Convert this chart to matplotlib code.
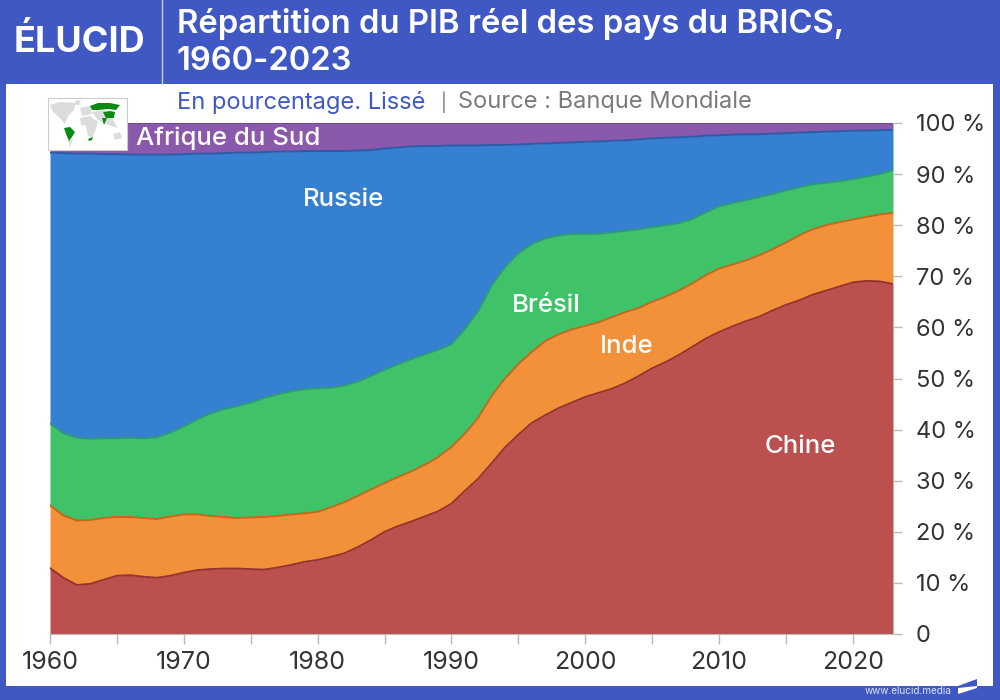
import numpy as np
import matplotlib
matplotlib.use("Agg")
import matplotlib.pyplot as plt
from matplotlib.patches import Rectangle, Polygon

plt.rcParams['font.family'] = ['Inter', 'DejaVu Sans']

# top edge of each band (cumulative %), one value per year
years = np.arange(1960, 2024)
chine = [12.9, 11.0, 9.6, 9.8, 10.6, 11.4, 11.5, 11.2, 11.0, 11.4,
         12.0, 12.5, 12.7, 12.8, 12.8, 12.7, 12.6, 13.0, 13.5, 14.1,
         14.5, 15.1, 15.8, 17.0, 18.4, 20.0, 21.1, 22.0, 23.0, 24.0,
         25.5, 28.0, 30.4, 33.4, 36.5, 39.0, 41.3, 42.8, 44.2, 45.3,
         46.4, 47.2, 48.0, 49.1, 50.5, 52.0, 53.2, 54.6, 56.2, 57.8,
         59.1, 60.2, 61.2, 62.1, 63.3, 64.4, 65.3, 66.4, 67.2, 68.0,
         68.8, 69.1, 69.0, 68.5]
inde = [25.2, 23.2, 22.2, 22.3, 22.7, 22.9, 22.9, 22.7, 22.5, 23.0,
        23.4, 23.4, 23.1, 22.9, 22.7, 22.8, 22.9, 23.1, 23.4, 23.6,
        23.9, 24.8, 25.8, 27.0, 28.3, 29.5, 30.7, 31.8, 33.1, 34.6,
        36.6, 39.2, 42.3, 46.6, 50.0, 52.8, 55.2, 57.3, 58.6, 59.6,
        60.3, 61.0, 62.0, 63.0, 63.8, 65.0, 66.0, 67.2, 68.6, 70.2,
        71.5, 72.3, 73.1, 74.1, 75.3, 76.6, 78.0, 79.2, 80.0, 80.6,
        81.1, 81.6, 82.1, 82.4]
bresil = [41.2, 39.3, 38.4, 38.2, 38.3, 38.3, 38.4, 38.3, 38.5, 39.4,
          40.6, 42.0, 43.2, 44.0, 44.6, 45.3, 46.2, 46.9, 47.5, 47.9,
          48.1, 48.2, 48.6, 49.4, 50.5, 51.7, 52.8, 53.8, 54.7, 55.6,
          56.7, 59.7, 63.2, 68.2, 71.8, 74.5, 76.3, 77.4, 78.0, 78.3,
          78.3, 78.3, 78.6, 78.9, 79.2, 79.6, 80.0, 80.4, 81.2, 82.5,
          83.7, 84.3, 84.9, 85.5, 86.1, 86.8, 87.4, 88.0, 88.3, 88.6,
          89.0, 89.5, 90.0, 90.8]
russie = [94.2, 94.1, 94.0, 94.0, 93.9, 93.9, 93.8, 93.8, 93.8, 93.8,
          93.9, 94.0, 94.0, 94.1, 94.2, 94.2, 94.3, 94.4, 94.4, 94.5,
          94.5, 94.5, 94.5, 94.6, 94.7, 95.0, 95.2, 95.4, 95.5, 95.5,
          95.6, 95.6, 95.6, 95.7, 95.7, 95.8, 95.9, 96.0, 96.1, 96.2,
          96.3, 96.4, 96.5, 96.6, 96.8, 97.0, 97.1, 97.2, 97.3, 97.5,
          97.6, 97.7, 97.8, 97.8, 97.9, 98.0, 98.1, 98.2, 98.3, 98.4,
          98.5, 98.5, 98.6, 98.6]
afrique = [100.0] * len(years)

bands = [chine, inde, bresil, russie, afrique]
colors = ['#BC504E', '#F29139', '#3FC268', '#3680D2', '#8A59AB']
edges = ['#96332F', '#C9661A', '#2E9A78', '#2B5BA8', '#6F4596']
band_labels = [('Chine', 2016.1, 36.7), ('Inde', 2003.1, 56.3), ('Brésil', 1997.1, 64.2),
               ('Russie', 1981.9, 85.0), ('Afrique du Sud', 1973.3, 97.0)]

yticks = np.arange(0, 101, 10)
ylabels = ['0'] + ['%d %%' % v for v in yticks[1:]]
xticks = np.arange(1960, 2021, 5)
xlabels = ['%d' % v if v % 10 == 0 else '' for v in xticks]

W, H = 1000, 700
blue = '#3F58C4'
fig = plt.figure(figsize=(10, 7), dpi=100, facecolor=blue)

bg = fig.add_axes([0, 0, 1, 1])
bg.set_xlim(0, W)
bg.set_ylim(H, 0)
bg.axis('off')
bg.add_patch(Rectangle((6, 84), 987, 602, fc='white', ec='none'))
bg.plot([162, 162], [0, 84], color='#C9D0EE', lw=1)

bg.text(14, 41, 'ÉLUCID', color='white', fontsize=26, fontweight='bold', va='center')
bg.text(177, 24, 'Répartition du PIB réel des pays du BRICS,', color='white', fontsize=23.6,
        fontweight='semibold', va='center')
bg.text(177, 62, '1960-2023', color='white', fontsize=23.6, fontweight='semibold', va='center')
bg.text(177, 102, 'En pourcentage. Lissé', color=blue, fontsize=17, va='center')
bg.text(441, 102, '|', color='#777777', fontsize=13, va='center')
bg.text(458, 102, 'Source : Banque Mondiale', color='#7A7A7A', fontsize=17, va='center')
bg.text(865, 691, 'www.elucid.media', color='#DDE2F6', fontsize=7.2, va='center')
bg.add_patch(Polygon([(958, 686), (977, 679), (977, 686)], fc=blue, ec='none'))
bg.add_patch(Polygon([(958, 688), (977, 686), (977, 688), (958, 694)], fc='white', ec='none'))

ax = fig.add_axes([50 / W, 1 - 634 / H, 843 / W, 511 / H])
low = np.zeros(len(years))
for top, c, e in zip(bands, colors, edges):
    top = np.array(top)
    ax.fill_between(years, low, top, color=c, lw=0)
    ax.plot(years, top, color=e, lw=1.4)
    low = top
for name, x, y in band_labels:
    ax.text(x, y, name, color='white', fontsize=18.5, fontweight='medium', ha='center', va='center')

ax.set_xlim(1960, 2023)
ax.set_ylim(0, 100)
ax.set_xticks(xticks, xlabels)
ax.yaxis.tick_right()
ax.set_yticks(yticks, ylabels)
ax.tick_params(axis='x', length=7, width=1, color='#BBBBBB', labelsize=18, labelcolor='#333333', pad=5)
ax.tick_params(axis='y', length=6.5, width=1, color='#BBBBBB', labelsize=17, labelcolor='#333333', pad=10)
for s in ['top', 'left', 'right']:
    ax.spines[s].set_visible(False)
ax.spines['bottom'].set_color('#BBBBBB')

# little locator map on top of the chart
fg = fig.add_axes([0, 0, 1, 1])
fg.set_xlim(0, W)
fg.set_ylim(H, 0)
fg.axis('off')
fg.patch.set_alpha(0)
fg.add_patch(Rectangle((48, 98), 79, 52, fc='white', ec='#CCCCCC', lw=0.8))
grey = [[(50, 105), (60, 102), (76, 103), (74, 110), (68, 116), (65, 124), (60, 118), (53, 112)],
        [(75, 101), (81, 100), (79, 105), (76, 105)],
        [(80, 108), (90, 106), (92, 114), (82, 116)],
        [(80, 118), (90, 116), (98, 122), (95, 132), (92, 138), (88, 136), (86, 126), (81, 125)],
        [(68, 140), (73, 139), (70, 147)],
        [(92, 112), (104, 110), (112, 118), (118, 128), (108, 125), (98, 120)],
        [(113, 134), (120, 132), (122, 138), (115, 140)]]
for pts in grey:
    fg.add_patch(Polygon(pts, fc='#DCDCDC', ec='none'))
green = [[(90, 106), (98, 103), (110, 103), (120, 105), (116, 110), (108, 109), (98, 110), (92, 110)],
         [(103, 112), (110, 111), (115, 112), (114, 118), (106, 118)],
         [(102, 118), (107, 118), (104, 125)],
         [(64, 128), (70, 127), (75, 132), (72, 137), (69, 141), (66, 134)],
         [(88, 139), (93, 137), (92, 140), (89, 141)]]
for pts in green:
    fg.add_patch(Polygon(pts, fc='#0B8A12', ec='none'))

fig.savefig('out.png', dpi=100, facecolor=blue)
